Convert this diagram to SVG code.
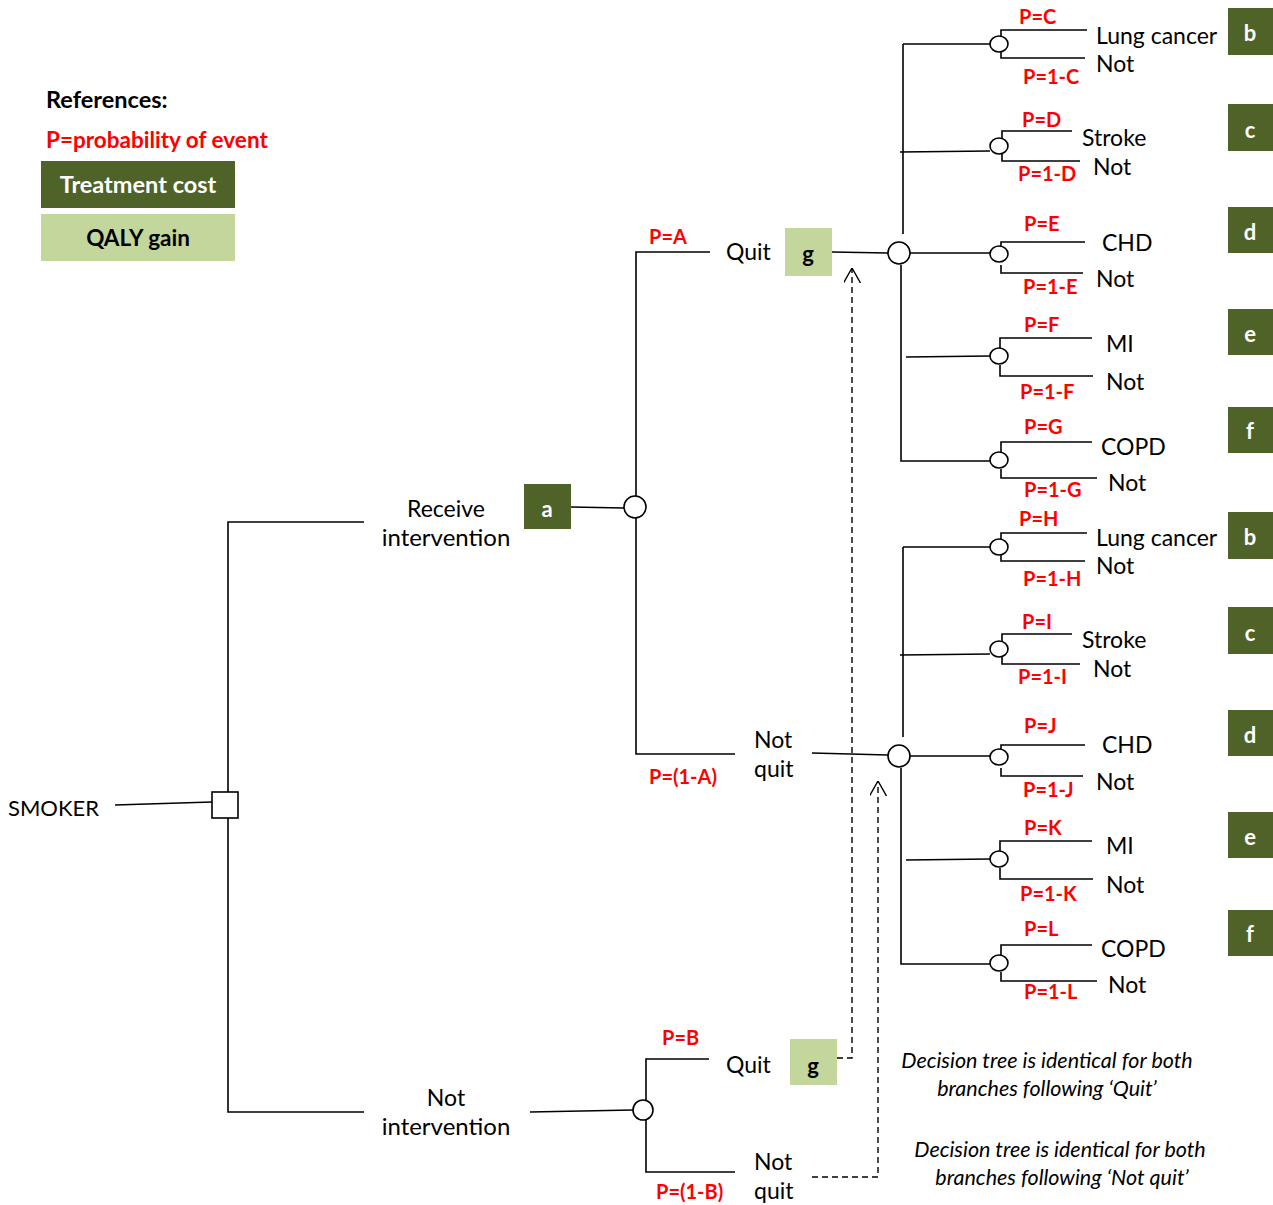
<svg xmlns="http://www.w3.org/2000/svg" width="1273" height="1205" viewBox="0 0 1273 1205">
<style>
  text { font-family: Lato, "Open Sans", "Liberation Sans", sans-serif; }
  .lbl { font-size: 23px; fill: #000; }
  .p { font-size: 20px; font-weight: bold; fill: #ff0000; }
  .ln { stroke: #000; stroke-width: 1.6; fill: none; }
  .dash { stroke: #000; stroke-width: 1.4; fill: none; stroke-dasharray: 6 4; }
  .dk { fill: #4F6228; }
  .lt { fill: #C3D69B; }
  .bx { font-size: 22px; font-weight: bold; fill: #fff; text-anchor: middle; }
  .bxg { font-size: 22px; font-weight: bold; fill: #000; text-anchor: middle; }
  .chance { fill: #fff; stroke: #000; stroke-width: 1.6; }
  .note { font-size: 21.5px; font-style: italic; fill: #000; text-anchor: middle; }
</style>
<defs>
  <marker id="open" viewBox="0 0 15 17" refX="15" refY="8.5" markerWidth="15" markerHeight="17" markerUnits="userSpaceOnUse" orient="auto">
    <path d="M0,0 L15,8.5 L0,17" fill="none" stroke="#000" stroke-width="1.4"/>
  </marker>
  <g id="sub">
    <path class="ln" d="M4,-209 V-19 M2,12 V208 H91"/>
    <path class="ln" d="M4,-209 H91 M1,-101 L91,-102 M11,0 H91 M7,104 L91,103"/>
    <path class="ln" d="M102,-217 V-223 H188 M102,-201 V-195 H186"/>
    <path class="ln" d="M103,-115 V-122 H173 M103,-99 V-92 H181"/>
    <path class="ln" d="M102,-4 V-11 H186 M102,12 V20 H184"/>
    <path class="ln" d="M101,96 V85 H193 M101,112 V123 H194"/>
    <path class="ln" d="M102,200 V189 H193 M102,216 V225 H198"/>
    <ellipse class="chance" cx="100" cy="-209" rx="9" ry="8"/>
    <ellipse class="chance" cx="100" cy="-107" rx="9" ry="8"/>
    <ellipse class="chance" cx="100" cy="1" rx="9" ry="8"/>
    <ellipse class="chance" cx="100" cy="103" rx="9" ry="8"/>
    <ellipse class="chance" cx="100" cy="207" rx="9" ry="8"/>
    <circle class="chance" cx="0" cy="0" r="11"/>
  </g>
</defs>

<g id="legend">
  <text x="46" y="108" style="font-size:23.5px;font-weight:bold">References:</text>
  <text x="46" y="148" class="p" style="font-size:22.5px">P=probability of event</text>
  <rect class="dk" x="41" y="161" width="194" height="47"/>
  <text x="138" y="193" class="bx" style="font-size:23.5px">Treatment cost</text>
  <rect class="lt" x="41" y="214" width="194" height="47"/>
  <text x="138" y="246" class="bxg" style="font-size:22.5px">QALY gain</text>
</g>

<g id="connectors">
  <path class="ln" d="M115,805 L212,802"/>
  <path class="ln" d="M364,522 H228 V1112 H364"/>
  <path class="ln" d="M571,507 L624,508"/>
  <path class="ln" d="M710,252 H636 V754 H735"/>
  <path class="ln" d="M832,252 L888,253"/>
  <path class="ln" d="M812,753 L888,755"/>
  <path class="ln" d="M530,1112 L633,1110"/>
  <path class="ln" d="M709,1059 H646 V1172 H735"/>
  <path class="dash" d="M837,1058 H852 V268" marker-end="url(#open)"/>
  <path class="dash" d="M812,1177 H878 V781" marker-end="url(#open)"/>
</g>

<g id="smoker">
  <text x="8" y="816" class="lbl" style="font-size:22px">SMOKER</text>
  <rect x="212" y="792" width="26" height="26" fill="#fff" stroke="#000" stroke-width="1.6"/>
</g>

<g id="receive">
  <text x="446" y="517" class="lbl" text-anchor="middle">Receive</text>
  <text x="446" y="546" class="lbl" text-anchor="middle" style="font-size:24px">intervention</text>
  <rect class="dk" x="524" y="484" width="47" height="45"/>
  <text x="547" y="517" class="bx">a</text>
  <circle class="chance" cx="635" cy="507" r="11"/>
</g>

<g id="notintervention">
  <text x="446" y="1106" class="lbl" text-anchor="middle">Not</text>
  <text x="446" y="1135" class="lbl" text-anchor="middle" style="font-size:24px">intervention</text>
  <circle class="chance" cx="643" cy="1110" r="10"/>
</g>

<g id="quitA">
  <text x="649" y="244" class="p">P=A</text>
  <text x="726" y="260" class="lbl">Quit</text>
  <rect class="lt" x="785" y="228" width="47" height="48"/>
  <text x="808" y="262" class="bxg">g</text>
</g>

<g id="notquitA">
  <text x="754" y="748" class="lbl">Not</text>
  <text x="754" y="777" class="lbl">quit</text>
  <text x="649" y="784" class="p">P=(1-A)</text>
</g>

<g id="quitB">
  <text x="662" y="1045" class="p">P=B</text>
  <text x="726" y="1073" class="lbl">Quit</text>
  <rect class="lt" x="790" y="1039" width="47" height="46"/>
  <text x="813" y="1074" class="bxg">g</text>
</g>

<g id="notquitB">
  <text x="754" y="1170" class="lbl">Not</text>
  <text x="754" y="1199" class="lbl">quit</text>
  <text x="656" y="1199" class="p">P=(1-B)</text>
</g>

<g id="subtree-quit">
  <use href="#sub" x="899" y="253"/>
  <text x="1019" y="24" class="p">P=C</text>
  <text x="1023" y="84" class="p">P=1-C</text>
  <text x="1096" y="44" class="lbl">Lung cancer</text>
  <text x="1096" y="72" class="lbl">Not</text>
  <text x="1022" y="127" class="p">P=D</text>
  <text x="1018" y="181" class="p">P=1-D</text>
  <text x="1082" y="146" class="lbl">Stroke</text>
  <text x="1093" y="175" class="lbl">Not</text>
  <text x="1024" y="231" class="p">P=E</text>
  <text x="1023" y="294" class="p">P=1-E</text>
  <text x="1102" y="251" class="lbl">CHD</text>
  <text x="1096" y="287" class="lbl">Not</text>
  <text x="1024" y="332" class="p">P=F</text>
  <text x="1020" y="399" class="p">P=1-F</text>
  <text x="1106" y="352" class="lbl">MI</text>
  <text x="1106" y="390" class="lbl">Not</text>
  <text x="1024" y="434" class="p">P=G</text>
  <text x="1024" y="497" class="p">P=1-G</text>
  <text x="1101" y="455" class="lbl">COPD</text>
  <text x="1108" y="491" class="lbl">Not</text>
</g>
<g id="costs-quit">
  <rect class="dk" x="1228" y="8" width="45" height="47"/><text x="1250" y="41" class="bx">b</text>
  <rect class="dk" x="1228" y="104" width="45" height="47"/><text x="1250" y="138" class="bx">c</text>
  <rect class="dk" x="1228" y="207" width="45" height="46"/><text x="1250" y="240" class="bx">d</text>
  <rect class="dk" x="1228" y="309" width="45" height="46"/><text x="1250" y="342" class="bx">e</text>
  <rect class="dk" x="1228" y="407" width="45" height="46"/><text x="1250" y="439" class="bx">f</text>
</g>

<g id="subtree-notquit">
  <use href="#sub" x="899" y="756"/>
  <text x="1019" y="526" class="p">P=H</text>
  <text x="1023" y="586" class="p">P=1-H</text>
  <text x="1096" y="546" class="lbl">Lung cancer</text>
  <text x="1096" y="574" class="lbl">Not</text>
  <text x="1022" y="629" class="p">P=I</text>
  <text x="1018" y="684" class="p">P=1-I</text>
  <text x="1082" y="648" class="lbl">Stroke</text>
  <text x="1093" y="677" class="lbl">Not</text>
  <text x="1024" y="733" class="p">P=J</text>
  <text x="1023" y="797" class="p">P=1-J</text>
  <text x="1102" y="753" class="lbl">CHD</text>
  <text x="1096" y="790" class="lbl">Not</text>
  <text x="1024" y="835" class="p">P=K</text>
  <text x="1020" y="901" class="p">P=1-K</text>
  <text x="1106" y="854" class="lbl">MI</text>
  <text x="1106" y="893" class="lbl">Not</text>
  <text x="1024" y="936" class="p">P=L</text>
  <text x="1024" y="999" class="p">P=1-L</text>
  <text x="1101" y="957" class="lbl">COPD</text>
  <text x="1108" y="993" class="lbl">Not</text>
</g>
<g id="costs-notquit">
  <rect class="dk" x="1228" y="512" width="45" height="47"/><text x="1250" y="545" class="bx">b</text>
  <rect class="dk" x="1228" y="607" width="45" height="47"/><text x="1250" y="641" class="bx">c</text>
  <rect class="dk" x="1228" y="710" width="45" height="46"/><text x="1250" y="743" class="bx">d</text>
  <rect class="dk" x="1228" y="812" width="45" height="46"/><text x="1250" y="845" class="bx">e</text>
  <rect class="dk" x="1228" y="910" width="45" height="46"/><text x="1250" y="942" class="bx">f</text>
</g>

<g id="notes">
  <text x="1047" y="1068" class="note">Decision tree is identical for both</text>
  <text x="1047" y="1096" class="note">branches following ‘Quit’</text>
  <text x="1060" y="1157" class="note">Decision tree is identical for both</text>
  <text x="1062" y="1185" class="note">branches following ‘Not quit’</text>
</g>
</svg>
